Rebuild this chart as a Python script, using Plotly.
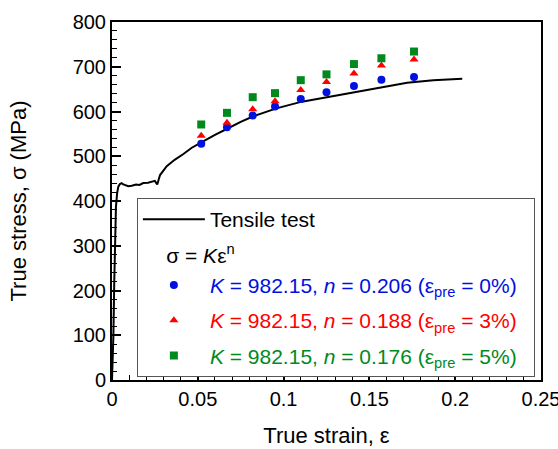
import plotly.graph_objects as go

# Tensile test curve (true strain, true stress MPa)
tensile_strain = [0, 0.0002, 0.0008, 0.0013, 0.0017, 0.0023, 0.0030, 0.0037, 0.0046, 0.0056,
                  0.0066, 0.0076, 0.0095, 0.0115, 0.0140, 0.0160, 0.0182, 0.0210, 0.0235, 0.0250,
                  0.0258, 0.0264, 0.0272, 0.0280, 0.0319, 0.0365, 0.0416, 0.0465, 0.0526, 0.0600,
                  0.0674, 0.0750, 0.0827, 0.0958, 0.1107, 0.1247, 0.1416, 0.1575, 0.1720, 0.1872, 0.2041]
tensile_stress = [0, 18, 97, 216, 328, 387, 418, 432, 438, 440,
                  437, 436, 433, 434, 437, 436, 440, 441, 444, 445,
                  440, 437, 448, 458, 478, 492, 505, 519, 532, 548,
                  562, 577, 590, 607, 622, 632, 644, 654, 664, 670, 673]

# Fitted points
fit_strain = [0.052, 0.067, 0.082, 0.095, 0.110, 0.125, 0.141, 0.157, 0.176]
stress_pre0 = [528, 565, 591, 611, 628, 643, 657, 671, 677]
stress_pre3 = [546, 575, 605, 623, 648, 666, 685, 703, 716]
stress_pre5 = [571, 597, 632, 641, 670, 683, 706, 719, 734]

names = [
    "<i>K</i> = 982.15, <i>n</i> = 0.206 (ε<sub>pre</sub> = 0%)\u2007",
    "<i>K</i> = 982.15, <i>n</i> = 0.188 (ε<sub>pre</sub> = 3%)\u2007",
    "<i>K</i> = 982.15, <i>n</i> = 0.176 (ε<sub>pre</sub> = 5%)\u2007",
]
colors = ["#0010e0", "#ff0000", "#008a1e"]
symbols = ["circle", "triangle-up", "square"]
series = [stress_pre0, stress_pre3, stress_pre5]

FONT = "Liberation Sans, Arial, Helvetica, sans-serif"

fig = go.Figure()
fig.add_trace(go.Scatter(
    x=tensile_strain, y=tensile_stress, mode="lines",
    line=dict(color="black", width=2),
    name="Tensile test", legendgroup="g0",
))
for i, (ys, nm, c, s) in enumerate(zip(series, names, colors, symbols)):
    tr = dict(
        x=fit_strain, y=ys, mode="markers",
        marker=dict(color=c, symbol=s, size=8),
        name="<span style='color:%s'>%s</span>" % (c, nm),
        legendgroup="g%d" % (i + 1),
    )
    if i == 0:
        tr["legendgrouptitle"] = dict(text="&nbsp;&nbsp;&nbsp;&nbsp;σ = <i>K</i>ε<sup>n</sup>",
                                      font=dict(size=21, color="black", family=FONT))
    fig.add_trace(go.Scatter(**tr))

fig.update_layout(
    width=558, height=449,
    margin=dict(l=112, r=17, t=22, b=69),
    paper_bgcolor="white", plot_bgcolor="white",
    font=dict(family=FONT, size=20, color="black"),
    showlegend=True,
    legend=dict(
        x=0.058, y=0.508, xanchor="left", yanchor="top",
        bgcolor="white", bordercolor="#555555", borderwidth=1,
        font=dict(size=21, family=FONT),
        traceorder="grouped", tracegroupgap=5,
        itemwidth=62,
    ),
)
fig.update_xaxes(
    range=[0, 0.25], dtick=0.05, tick0=0, automargin=False,
    showgrid=False, zeroline=False,
    showline=True, linecolor="black", linewidth=2, mirror=True,
    ticks="inside", ticklen=9, tickwidth=1.5, tickcolor="black",
    minor=dict(dtick=0.01, ticks="inside", ticklen=5, tickwidth=1.2, tickcolor="black", showgrid=False),
    tickfont=dict(size=20), ticklabeloverflow="allow",
    title=dict(text="True strain, ε", font=dict(size=22), standoff=19),
)
fig.update_yaxes(
    range=[0, 800], dtick=100, tick0=0, automargin=False,
    showgrid=False, zeroline=False,
    showline=True, linecolor="black", linewidth=2, mirror=True,
    ticks="inside", ticklen=9, tickwidth=1.5, tickcolor="black",
    minor=dict(dtick=20, ticks="inside", ticklen=5, tickwidth=1.2, tickcolor="black", showgrid=False),
    tickfont=dict(size=20), ticklabeloverflow="allow",
    title=dict(text="True stress, σ (MPa)", font=dict(size=22), standoff=40),
)

fig.write_html("out.html", config={"displayModeBar": False},
               post_script="document.body.style.margin='0';")
